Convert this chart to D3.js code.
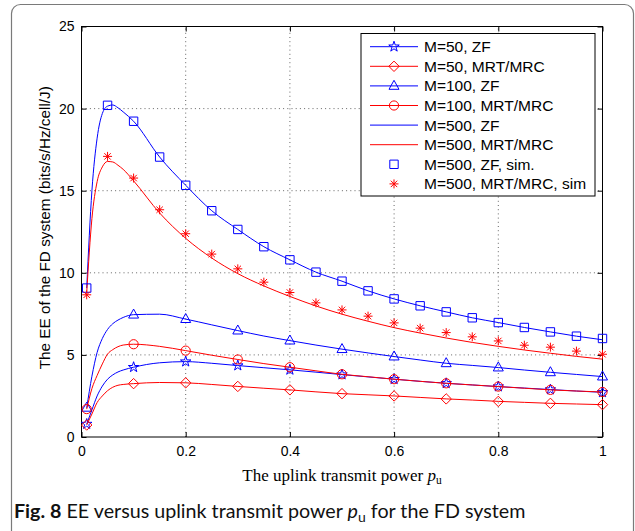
<!DOCTYPE html>
<html>
<head>
<meta charset="utf-8">
<script src="https://cdn.jsdelivr.net/npm/d3@7"></script>
<style>
  body { margin: 0; background: #fff; }
  svg { display: block; }
</style>
</head>
<body>
<svg id="chart" width="635" height="531"></svg>
<script>
(function () {
  'use strict';

  // x grid of the analytical curves
  var lineX = [0.01, 0.02, 0.03, 0.04, 0.05, 0.06, 0.07, 0.08, 0.1, 0.15, 0.2, 0.25, 0.3, 0.35,
    0.4, 0.45, 0.5, 0.55, 0.6, 0.65, 0.7, 0.75, 0.8, 0.85, 0.9, 0.95, 1.0];

  var zf50 = [0.79, 1.65, 2.5, 3.1, 3.52, 3.78, 3.96, 4.08, 4.25, 4.52, 4.59, 4.49, 4.35, 4.22,
    4.09, 3.95, 3.8, 3.66, 3.52, 3.39, 3.27, 3.17, 3.07, 2.98, 2.89, 2.8, 2.72];
  var mrt50 = [0.73, 1.4, 2.1, 2.5, 2.82, 3.03, 3.15, 3.2, 3.25, 3.32, 3.3, 3.2, 3.08, 2.97,
    2.87, 2.75, 2.64, 2.57, 2.5, 2.41, 2.32, 2.25, 2.17, 2.11, 2.05, 2.01, 1.97];
  var zf100 = [1.78, 3.7, 5.15, 6.0, 6.55, 6.9, 7.12, 7.28, 7.45, 7.48, 7.18, 6.83, 6.48, 6.15,
    5.87, 5.6, 5.35, 5.12, 4.9, 4.69, 4.49, 4.36, 4.23, 4.08, 3.94, 3.81, 3.68];
  var mrt100 = [1.7, 2.95, 3.75, 4.45, 5.05, 5.32, 5.5, 5.6, 5.65, 5.52, 5.26, 4.98, 4.72, 4.47,
    4.25, 4.03, 3.82, 3.67, 3.52, 3.39, 3.27, 3.17, 3.07, 2.97, 2.87, 2.8, 2.74];
  var zf500 = [9.07, 15.0, 18.2, 19.7, 20.15, 20.22, 20.05, 19.8, 19.23, 17.05, 15.33, 13.78, 12.64, 11.59,
    10.79, 10.04, 9.49, 8.9, 8.41, 7.99, 7.62, 7.26, 6.97, 6.67, 6.4, 6.14, 5.92];
  var mrt500 = [8.8, 13.3, 15.55, 16.45, 16.78, 16.75, 16.55, 16.3, 15.6, 13.64, 12.1, 10.9, 9.95, 9.2,
    8.56, 7.98, 7.48, 7.05, 6.66, 6.33, 6.03, 5.76, 5.52, 5.3, 5.1, 4.91, 4.74];

  // x positions where the analytical curves carry markers
  var markX = [0.01, 0.1, 0.2, 0.3, 0.4, 0.5, 0.6, 0.7, 0.8, 0.9, 1.0];

  // simulation points
  var simX = [0.01, 0.05, 0.1, 0.15, 0.2, 0.25, 0.3, 0.35, 0.4, 0.45, 0.5, 0.55, 0.6, 0.65,
    0.7, 0.75, 0.8, 0.85, 0.9, 0.95, 1.0];
  var simZF500 = [9.07, 20.2, 19.23, 17.05, 15.33, 13.78, 12.64, 11.59, 10.79, 10.04, 9.49, 8.9, 8.41, 7.99,
    7.62, 7.26, 6.97, 6.67, 6.4, 6.14, 6.0];
  var simMRT500 = [8.66, 17.09, 15.77, 13.84, 12.38, 11.14, 10.24, 9.43, 8.8, 8.17, 7.74, 7.36, 6.95, 6.63,
    6.36, 6.1, 5.85, 5.59, 5.47, 5.23, 5.04];

  var xTicks = [0, 0.2, 0.4, 0.6, 0.8, 1];
  var yTicks = [0, 5, 10, 15, 20, 25];
  var legendLabels = ['M=50, ZF', 'M=50, MRT/MRC', 'M=100, ZF', 'M=100, MRT/MRC',
    'M=500, ZF', 'M=500, MRT/MRC', 'M=500, ZF, sim.', 'M=500, MRT/MRC, sim'];

  var BLUE = '#0000ff', RED = '#ff0000';

  var series = [
    { values: zf50, color: BLUE, marker: 'star' },
    { values: mrt50, color: RED, marker: 'diamond' },
    { values: zf100, color: BLUE, marker: 'triangle' },
    { values: mrt100, color: RED, marker: 'circle' },
    { values: zf500, color: BLUE, marker: null },
    { values: mrt500, color: RED, marker: null }
  ];
  var sims = [
    { xs: simX, values: simZF500, color: BLUE, marker: 'square' },
    { xs: simX, values: simMRT500, color: RED, marker: 'asterisk' }
  ];

  var svg = d3.select('#chart');
  var L = 81.5, R = 602.5, T = 26.5, B = 437;

  var x = d3.scaleLinear().domain([0, 1]).range([L, R]);
  var y = d3.scaleLinear().domain([0, 25]).range([B, T]);

  // figure frame
  svg.append('rect').attr('x', 11.5).attr('y', 4.5).attr('width', 622).attr('height', 540)
    .attr('rx', 9).attr('fill', '#fff').attr('stroke', '#7a7a7a').attr('stroke-width', 1.2);

  // grid
  var grid = svg.append('g').attr('stroke', '#555').attr('stroke-width', 0.9)
    .attr('stroke-dasharray', '1,3.2');
  xTicks.slice(1, -1).forEach(function (t) {
    grid.append('line').attr('x1', x(t)).attr('x2', x(t)).attr('y1', B).attr('y2', T);
  });
  yTicks.slice(1, -1).forEach(function (t) {
    grid.append('line').attr('y1', y(t)).attr('y2', y(t)).attr('x1', L).attr('x2', R);
  });

  // axes, ticks inside on all four sides
  var font = '"Liberation Sans", Arial, sans-serif';
  var axB = svg.append('g').attr('transform', 'translate(0,' + B + ')')
    .call(d3.axisBottom(x).tickValues(xTicks).tickSizeInner(-5).tickSizeOuter(0).tickPadding(9)
      .tickFormat(d3.format('')));
  var axT = svg.append('g').attr('transform', 'translate(0,' + T + ')')
    .call(d3.axisTop(x).tickValues(xTicks).tickSizeInner(-5).tickSizeOuter(0).tickFormat(''));
  var axL = svg.append('g').attr('transform', 'translate(' + L + ',0)')
    .call(d3.axisLeft(y).tickValues(yTicks).tickSizeInner(-5).tickSizeOuter(0).tickPadding(7));
  var axR = svg.append('g').attr('transform', 'translate(' + R + ',0)')
    .call(d3.axisRight(y).tickValues(yTicks).tickSizeInner(-5).tickSizeOuter(0).tickFormat(''));
  [axB, axT, axL, axR].forEach(function (a) {
    a.select('.domain').remove();
    a.selectAll('line').attr('stroke', '#000');
    a.selectAll('text').attr('fill', '#000').style('font-family', font).style('font-size', '14px');
  });
  svg.append('rect').attr('x', L).attr('y', T).attr('width', R - L).attr('height', B - T)
    .attr('fill', 'none').attr('stroke', '#000').attr('stroke-width', 1);

  // marker glyphs
  function drawMarker(g, type, cx, cy, color) {
    var m = g.append('path').attr('transform', 'translate(' + cx + ',' + cy + ')')
      .attr('fill', 'none').attr('stroke', color).attr('stroke-width', 1);
    var p;
    if (type === 'star') {
      p = d3.symbol(d3.symbolStar, 34)();
    } else if (type === 'diamond') {
      p = 'M0,-5.2L5.2,0L0,5.2L-5.2,0Z';
    } else if (type === 'triangle') {
      p = 'M0,-5.6L5,3.4L-5,3.4Z';
    } else if (type === 'circle') {
      p = 'M4.6,0A4.6,4.6 0 1,1 -4.6,0A4.6,4.6 0 1,1 4.6,0Z';
    } else if (type === 'square') {
      p = 'M-4.2,-4.2H4.2V4.2H-4.2Z';
    } else if (type === 'asterisk') {
      p = 'M-4.5,0H4.5M0,-4.5V4.5M-3.2,-3.2L3.2,3.2M-3.2,3.2L3.2,-3.2';
    }
    m.attr('d', p);
  }

  var line = d3.line().curve(d3.curveMonotoneX)
    .x(function (d, i) { return x(lineX[i]); })
    .y(function (d) { return y(d); });

  var plot = svg.append('g');
  series.forEach(function (s) {
    plot.append('path').attr('d', line(s.values)).attr('fill', 'none')
      .attr('stroke', s.color).attr('stroke-width', 1);
    if (s.marker) {
      markX.forEach(function (mx) {
        var i = lineX.indexOf(mx);
        drawMarker(plot, s.marker, x(mx), y(s.values[i]), s.color);
      });
    }
  });
  sims.forEach(function (s) {
    s.values.forEach(function (v, i) {
      drawMarker(plot, s.marker, x(s.xs[i]), y(v), s.color);
    });
  });

  // legend
  var leg = svg.append('g');
  leg.append('rect').attr('x', 361).attr('y', 33.5).attr('width', 234).attr('height', 162.5)
    .attr('fill', '#fff').attr('stroke', '#000').attr('stroke-width', 1);
  var legItems = series.concat(sims);
  legItems.forEach(function (s, i) {
    var ly = 46.7 + i * 19.6;
    if (i < series.length) {
      leg.append('line').attr('x1', 370).attr('x2', 418).attr('y1', ly).attr('y2', ly)
        .attr('stroke', s.color).attr('stroke-width', 1);
    }
    if (s.marker) drawMarker(leg, s.marker, 394, ly, s.color);
    leg.append('text').attr('x', 424).attr('y', ly + 5.5)
      .style('font-family', font).style('font-size', '15.5px').attr('fill', '#000')
      .text(legendLabels[i]);
  });

  // axis titles
  svg.append('text').attr('transform', 'translate(50,' + ((T + B) / 2 - 4) + ') rotate(-90)')
    .attr('text-anchor', 'middle').style('font-family', font).style('font-size', '15.3px')
    .text('The EE of the FD system (bits/s/Hz/cell/J)');

  var xl = svg.append('text').attr('x', (L + R) / 2).attr('y', 481).attr('text-anchor', 'middle')
    .style('font-family', '"Liberation Serif", "Times New Roman", serif').style('font-size', '17px');
  xl.append('tspan').text('The uplink transmit power ');
  xl.append('tspan').style('font-style', 'italic').text('p');
  xl.append('tspan').attr('dy', 3).style('font-size', '11.5px').text('u');

  // caption
  var cap = svg.append('text').attr('x', 14).attr('y', 518)
    .style('font-family', 'Lato, "Noto Sans", sans-serif').style('font-size', '19.7px').attr('fill', '#111');
  cap.append('tspan').style('font-weight', 'bold').text('Fig. 8');
  cap.append('tspan').text(' EE versus uplink transmit power ');
  cap.append('tspan').style('font-style', 'italic').text('p');
  cap.append('tspan').attr('dy', 4).style('font-size', '14px').text('u');
  cap.append('tspan').attr('dy', -4).text(' for the FD system');
})();
</script>
</body>
</html>
